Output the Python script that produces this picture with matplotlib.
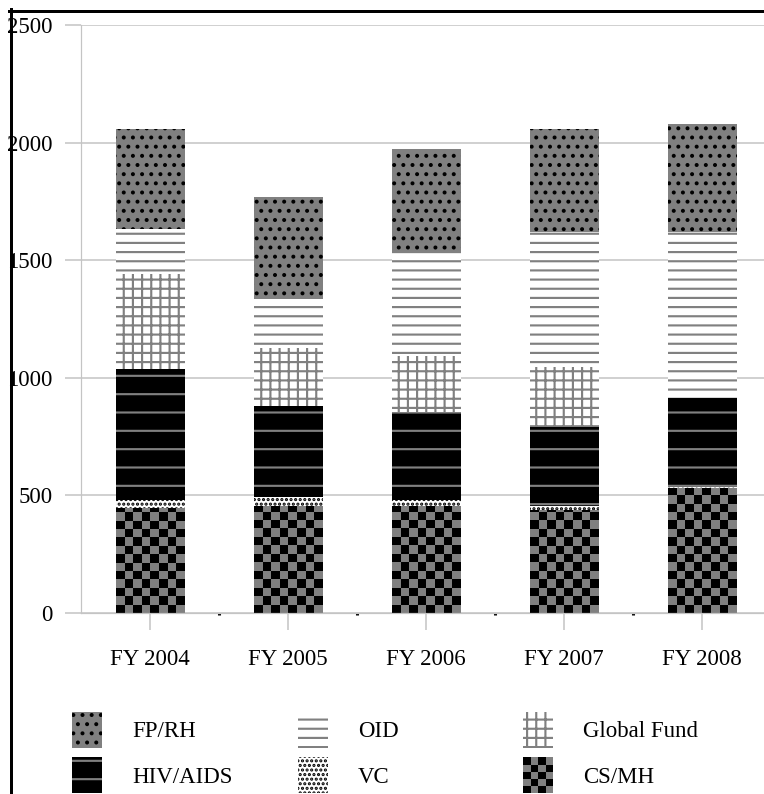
import matplotlib
matplotlib.use("Agg")
import matplotlib.pyplot as plt
import numpy as np
from matplotlib.colors import ListedColormap
from matplotlib.legend_handler import HandlerBase
from matplotlib.lines import Line2D
from matplotlib.patches import Rectangle

# values (stack order bottom -> top)
years = ["FY 2004", "FY 2005", "FY 2006", "FY 2007", "FY 2008"]
cs_mh = [446, 456, 456, 436, 530]
vc = [35, 37, 23, 17, 4]
hiv_aids = [556, 385, 374, 337, 382]
global_fund = [405, 248, 238, 258, 0]
oid = [190, 208, 446, 574, 706]
fp_rh = [425, 434, 435, 435, 458]
yticks = [0, 500, 1000, 1500, 2000, 2500]

DPI = 110
W, H = 764, 794
GRAY = "#808080"
GRID = "#c4c4c4"
FS = 15

plt.rcParams["font.family"] = ["Liberation Serif", "DejaVu Serif"]
plt.rcParams["hatch.linewidth"] = 1.4

fig = plt.figure(figsize=(W / DPI, H / DPI), dpi=DPI)
ax = fig.add_axes([81 / W, 1 - 613 / H, 690 / W, 588 / H])
ax.set_xlim(-0.5, 4.5)
ax.set_ylim(0, 2500)

x = np.arange(len(years))
width = 0.5

styles = {
    "CS/MH": dict(color=GRAY, linewidth=0),
    "VC": dict(facecolor="white", edgecolor="black", hatch="....", linewidth=0),
    "HIV/AIDS": dict(facecolor="black", edgecolor=GRAY, hatch="-", linewidth=0),
    "Global Fund": dict(facecolor="white", edgecolor=GRAY, hatch="++", linewidth=0),
    "OID": dict(facecolor="white", edgecolor=GRAY, hatch="--", linewidth=0),
    "FP/RH": dict(facecolor=GRAY, edgecolor="black", hatch="..", linewidth=0),
}
series = [("CS/MH", cs_mh), ("VC", vc), ("HIV/AIDS", hiv_aids),
          ("Global Fund", global_fund), ("OID", oid), ("FP/RH", fp_rh)]

bottom = np.zeros(len(years))
bars = {}
for name, vals in series:
    vals = np.asarray(vals, dtype=float)
    bars[name] = ax.bar(x, vals, width, bottom=bottom, label=name, zorder=2,
                        **styles[name])
    bottom += vals

# checkerboard texture for CS/MH, clipped to each bar
checker_cmap = ListedColormap(["black", GRAY])
cell_px = 8.4
cell_y = cell_px * 2500 / 588
for rect in bars["CS/MH"]:
    h = rect.get_height()
    nrows = int(np.ceil(h / cell_y))
    board = np.indices((nrows, 8)).sum(axis=0) % 2
    x0 = rect.get_x()
    im = ax.imshow(board, cmap=checker_cmap, origin="lower", aspect="auto",
                   interpolation="nearest",
                   extent=(x0, x0 + rect.get_width(), 0, nrows * cell_y),
                   zorder=2.5)
    im.set_clip_path(rect)
ax.set_xlim(-0.5, 4.5)
ax.set_ylim(0, 2500)

ax.set_yticks(yticks)
ax.set_xticks(x)
ax.set_xticklabels(years)
ax.set_xticks(x[:-1] + 0.5, minor=True)
ax.yaxis.grid(True, color=GRID, linewidth=1)
ax.set_axisbelow(True)
for side in ["top", "right"]:
    ax.spines[side].set_visible(False)
ax.spines["left"].set_color(GRID)
ax.spines["bottom"].set_color(GRID)
ax.tick_params(axis="y", length=10.5, width=1, color=GRID, pad=8, labelsize=FS)
ax.tick_params(axis="x", which="major", length=11, width=1, color=GRID, pad=12.6,
               labelsize=FS)
ax.tick_params(axis="x", which="minor", length=1.5, width=2, color="black")


class CheckerHandler(HandlerBase):
    def create_artists(self, legend, orig_handle, xdescent, ydescent,
                       width, height, fontsize, trans):
        nx, ny = 4, 5
        cw, ch = width / nx, height / ny
        arts = []
        for i in range(nx):
            for j in range(ny):
                c = "black" if (i + j) % 2 == 0 else GRAY
                arts.append(Rectangle((-xdescent + i * cw, -ydescent + j * ch),
                                      cw, ch, facecolor=c, edgecolor="none",
                                      transform=trans))
        return arts


checker_proxy = Rectangle((0, 0), 1, 1, label="CS/MH")

leg_kw = dict(loc="upper left", fontsize=FS, frameon=False, handlelength=1.31,
              handleheight=2.05, labelspacing=0.4, handletextpad=1.31,
              borderpad=0, borderaxespad=0)
columns = [
    (72, [bars["FP/RH"], bars["HIV/AIDS"]], ["FP/RH", "HIV/AIDS"]),
    (298, [bars["OID"], bars["VC"]], ["OID", "VC"]),
    (523, [bars["Global Fund"], checker_proxy], ["Global Fund", "CS/MH"]),
]
for xpx, handles, labels in columns:
    fig.legend(handles, labels, bbox_to_anchor=(xpx / W, 1 - 712 / H),
               handler_map={checker_proxy: CheckerHandler()}, **leg_kw)

# black frame on the left and top of the picture
lw = 3 * 72 / DPI
fig.add_artist(Line2D([10.5 / W, 10.5 / W], [0, 1 - 9 / H], color="black",
                      linewidth=lw, transform=fig.transFigure))
fig.add_artist(Line2D([9 / W, 1], [1 - 10.5 / H, 1 - 10.5 / H], color="black",
                      linewidth=lw, transform=fig.transFigure))

fig.savefig("out.png", dpi=DPI)
